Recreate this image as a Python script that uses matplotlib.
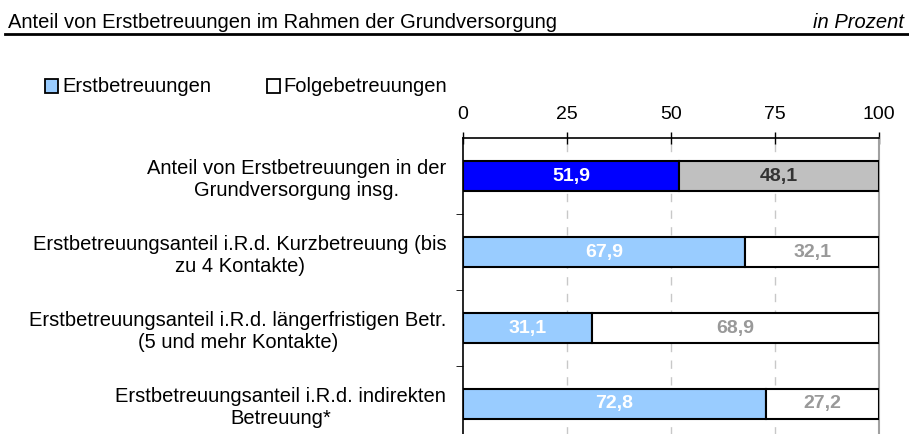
import matplotlib.pyplot as plt
from matplotlib.patches import Rectangle

plt.rcParams['font.family'] = ['Liberation Sans', 'DejaVu Sans']

kategorien = ["Anteil von Erstbetreuungen in der\nGrundversorgung insg.",
              "Erstbetreuungsanteil i.R.d. Kurzbetreuung (bis\nzu 4 Kontakte)",
              "Erstbetreuungsanteil i.R.d. längerfristigen Betr.\n(5 und mehr Kontakte)",
              "Erstbetreuungsanteil i.R.d. indirekten\nBetreuung*"]
erst = [51.9, 67.9, 31.1, 72.8]
folge = [48.1, 32.1, 68.9, 27.2]
xticks = [0, 25, 50, 75, 100]

farbe_erst = ["#0000FF", "#99CCFF", "#99CCFF", "#99CCFF"]
farbe_folge = ["#C0C0C0", "white", "white", "white"]
text_erst = ["white", "white", "white", "white"]
text_folge = ["#333333", "#999999", "#999999", "#999999"]

W, H = 909, 434
fig = plt.figure(figsize=(W/100, H/100), dpi=100)
# Achse: oben bei y=138 px, unten bei 442 px (leicht ausserhalb des Bildes)
ax = fig.add_axes([463/W, 1 - 442/H, (879-463)/W, (442-138)/H])

y = list(range(len(kategorien)))
h = 30/76
ax.barh(y, erst, height=h, color=farbe_erst, edgecolor="black", linewidth=1.5, zorder=3)
ax.barh(y, folge, left=erst, height=h, color=farbe_folge, edgecolor="black", linewidth=1.5, zorder=3)
for i in y:
    ax.text(erst[i]/2, i, f"{erst[i]:.1f}".replace(".", ","), ha="center", va="center",
            color=text_erst[i], fontsize=14, fontweight="bold", zorder=4)
    ax.text(erst[i] + folge[i]/2, i, f"{folge[i]:.1f}".replace(".", ","), ha="center", va="center",
            color=text_folge[i], fontsize=14, fontweight="bold", zorder=4)

ax.set_xlim(0, 100)
ax.set_ylim(3.5, -0.5)
ax.xaxis.tick_top()
ax.set_xticks(xticks)
ax.tick_params(axis="x", direction="inout", length=9, width=1, labelsize=14, pad=6)
ax.set_yticks(y)
ax.set_yticklabels(kategorien, fontsize=14.5, ha="right", multialignment="center")
ax.tick_params(axis="y", length=0, pad=12)
ax.set_yticks([0.5, 1.5, 2.5], minor=True)
ax.tick_params(axis="y", which="minor", length=5, color="black")
ax.spines["bottom"].set_visible(False)
ax.spines["top"].set_linewidth(1.2)
ax.spines["right"].set_color("#A0A0A0")
ax.spines["right"].set_linewidth(1.5)
ax.spines["left"].set_linewidth(1.2)
for xv in xticks[1:-1]:
    ax.axvline(xv, color="#C8C8C8", linestyle=(0, (6, 6)), linewidth=1, zorder=1)

# Kopfzeile
fig.text(8/W, 1 - 23/H, "Anteil von Erstbetreuungen im Rahmen der Grundversorgung",
         fontsize=14.5, va="center", ha="left")
fig.text(904/W, 1 - 23/H, "in Prozent", fontsize=14.5, va="center", ha="right", style="italic")
fig.add_artist(plt.Line2D([5/W, 1], [1 - 34/H, 1 - 34/H], color="black", linewidth=2))

# Legende
ly = 1 - 86/H
fig.add_artist(Rectangle((45/W, ly - 6.5/H), 13/W, 13/H, facecolor="#99CCFF",
                         edgecolor="black", linewidth=1.3, transform=fig.transFigure))
fig.text(62/W, ly, "Erstbetreuungen", fontsize=14.5, va="center", ha="left")
fig.add_artist(Rectangle((267/W, ly - 6.5/H), 13/W, 13/H, facecolor="white",
                         edgecolor="black", linewidth=1.3, transform=fig.transFigure))
fig.text(283/W, ly, "Folgebetreuungen", fontsize=14.5, va="center", ha="left")

fig.savefig("out.png", dpi=100)
